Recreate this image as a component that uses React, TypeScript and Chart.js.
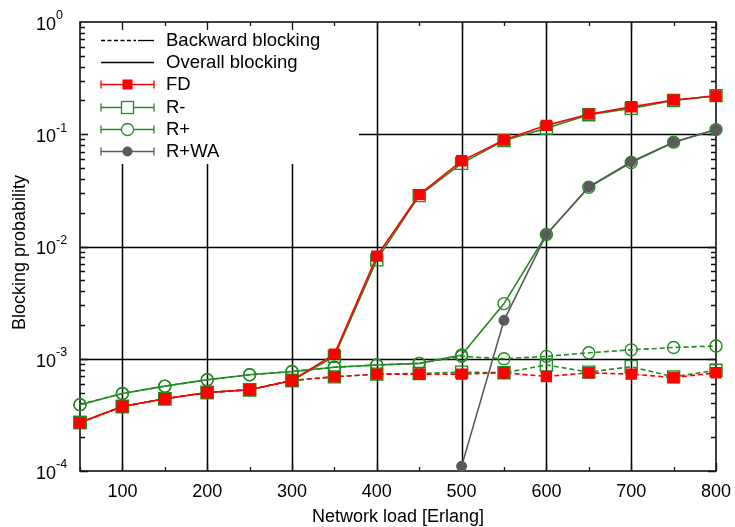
import React, { useEffect, useRef } from "react";
import { Chart, registerables } from "chart.js";

Chart.register(...registerables);

const loads = [50, 100, 150, 200, 250, 300, 350, 400, 450, 500, 550, 600, 650, 700, 750, 800];

const fdOverall = [2.7e-4, 3.75e-4, 4.4e-4, 5.0e-4, 5.3e-4, 6.4e-4, 1.1e-3, 8.2e-3, 2.9e-2, 5.8e-2, 8.9e-2, 0.12, 0.151, 0.176, 0.202, 0.219];
const fdBackward = [2.7e-4, 3.75e-4, 4.4e-4, 5.0e-4, 5.3e-4, 6.4e-4, 6.9e-4, 7.3e-4, 7.3e-4, 7.3e-4, 7.5e-4, 6.95e-4, 7.5e-4, 7.3e-4, 6.8e-4, 7.5e-4];
const rMinusOverall = [2.7e-4, 3.75e-4, 4.4e-4, 5.0e-4, 5.3e-4, 6.4e-4, 1.05e-3, 7.6e-3, 2.84e-2, 5.5e-2, 8.8e-2, 0.113, 0.149, 0.17, 0.2, 0.221];
const rMinusBackward = [2.7e-4, 3.75e-4, 4.4e-4, 5.0e-4, 5.3e-4, 6.4e-4, 6.9e-4, 7.3e-4, 7.4e-4, 7.6e-4, 7.5e-4, 8.8e-4, 7.6e-4, 8.5e-4, 6.9e-4, 7.9e-4];
const rPlusOverall = [3.9e-4, 4.9e-4, 5.7e-4, 6.5e-4, 7.2e-4, 7.7e-4, 8.4e-4, 8.8e-4, 9.1e-4, 1.08e-3, 3.1e-3, 1.28e-2, 3.37e-2, 5.6e-2, 8.5e-2, 0.11];
const rPlusBackward = [3.9e-4, 4.9e-4, 5.7e-4, 6.5e-4, 7.2e-4, 7.7e-4, 8.4e-4, 8.8e-4, 9.1e-4, 1.05e-3, 1.0e-3, 1.05e-3, 1.13e-3, 1.2e-3, 1.26e-3, 1.3e-3];
const rPlusWaOverall = [null, null, null, null, null, null, null, null, null, 1.1e-4, 2.2e-3, 1.28e-2, 3.4e-2, 5.7e-2, 8.5e-2, 0.11];

const xGridValues = [100, 200, 300, 400, 500, 600, 700];
const xTickValues = [50, 100, 150, 200, 250, 300, 350, 400, 450, 500, 550, 600, 650, 700, 750, 800];
const xTickLabels = ["100", "200", "300", "400", "500", "600", "700", "800"];
const xLabelValues = [100, 200, 300, 400, 500, 600, 700, 800];
const yDecadeExps = [0, -1, -2, -3, -4];
const yGridExps = [-1, -2, -3];

const legendLines = ["Backward blocking", "Overall blocking"];
const legendSeries = ["FD", "R-", "R+", "R+WA"];

const RED = "#ff0000";
const GREEN = "rgb(34,139,34)";
const GREY = "rgb(90,90,90)";
const FONT = '"Liberation Sans", Arial, Helvetica, sans-serif';

const gnuplotPlugin = {
  id: "gnuplotFrame",
  beforeDatasetsDraw(chart: any) {
    const { ctx, chartArea, scales } = chart;
    const { left, right, top, bottom } = chartArea;
    const xs = scales.x;
    const ys = scales.y;
    ctx.save();
    // grid
    ctx.strokeStyle = "#000";
    ctx.lineWidth = 1.5;
    for (const v of xGridValues) {
      const px = Math.round(xs.getPixelForValue(v)) + 0.5;
      ctx.beginPath();
      ctx.moveTo(px, top);
      ctx.lineTo(px, bottom);
      ctx.stroke();
    }
    for (const e of yGridExps) {
      const py = Math.round(ys.getPixelForValue(Math.pow(10, e))) + 0.5;
      ctx.beginPath();
      ctx.moveTo(left, py);
      ctx.lineTo(right, py);
      ctx.stroke();
    }
    // legend background
    ctx.fillStyle = "#fff";
    ctx.fillRect(left + 1, top + 1, 278, 141);
    // border
    ctx.strokeStyle = "#111";
    ctx.lineWidth = 1.6;
    ctx.strokeRect(left, top, right - left, bottom - top);
    // x ticks
    ctx.lineWidth = 1.3;
    for (const v of xTickValues) {
      const px = Math.round(xs.getPixelForValue(v)) + 0.5;
      const len = v % 100 === 0 ? 8 : 4;
      ctx.beginPath();
      ctx.moveTo(px, bottom);
      ctx.lineTo(px, bottom - len);
      ctx.moveTo(px, top);
      ctx.lineTo(px, top + len);
      ctx.stroke();
    }
    // y ticks
    for (let e = -4; e < 0; e++) {
      for (let m = 1; m <= 9; m++) {
        const v = m * Math.pow(10, e);
        const py = Math.round(ys.getPixelForValue(v)) + 0.5;
        const len = m === 1 ? 8 : 5;
        ctx.beginPath();
        ctx.moveTo(left, py);
        ctx.lineTo(left + len, py);
        ctx.moveTo(right, py);
        ctx.lineTo(right - len, py);
        ctx.stroke();
      }
    }
    // x tick labels
    ctx.fillStyle = "#000";
    ctx.font = `18px ${FONT}`;
    ctx.textAlign = "center";
    ctx.textBaseline = "middle";
    xLabelValues.forEach((v, i) => {
      ctx.fillText(xTickLabels[i], xs.getPixelForValue(v), bottom + 21);
    });
    // y tick labels
    for (const e of yDecadeExps) {
      const py = ys.getPixelForValue(Math.pow(10, e));
      ctx.font = `18px ${FONT}`;
      ctx.textAlign = "right";
      ctx.textBaseline = "middle";
      ctx.fillText("10", left - 24, py + 3);
      ctx.font = `12.5px ${FONT}`;
      ctx.textAlign = "left";
      ctx.fillText(String(e), left - 24, py - 6);
    }
    // axis titles
    ctx.font = `18px ${FONT}`;
    ctx.textAlign = "center";
    ctx.textBaseline = "middle";
    ctx.fillText("Network load [Erlang]", (left + right) / 2, bottom + 46);
    ctx.save();
    ctx.translate(20, (top + bottom) / 2 + 6);
    ctx.rotate(-Math.PI / 2);
    ctx.fillText("Blocking probability", 0, 0);
    ctx.restore();
    ctx.restore();
  },
  afterDraw(chart: any) {
    const { ctx, chartArea } = chart;
    const { left, top } = chartArea;
    const x0 = left + 21;
    const x1 = left + 74;
    const xm = (x0 + x1) / 2;
    const xt = left + 86;
    const rowY = (i: number) => top + 18 + i * 22.2;
    ctx.save();
    ctx.font = `18.5px ${FONT}`;
    ctx.textAlign = "left";
    ctx.textBaseline = "middle";
    ctx.fillStyle = "#000";
    // line style rows
    ctx.strokeStyle = "#000";
    ctx.lineWidth = 1.3;
    let y = Math.round(rowY(0)) + 0.5;
    ctx.setLineDash([4, 2.5]);
    ctx.beginPath();
    ctx.moveTo(x0, y);
    ctx.lineTo(x0 + 35, y);
    ctx.stroke();
    ctx.setLineDash([]);
    ctx.beginPath();
    ctx.moveTo(x0 + 37, y);
    ctx.lineTo(x1, y);
    ctx.stroke();
    ctx.fillText(legendLines[0], xt, rowY(0) + 1);
    y = Math.round(rowY(1)) + 0.5;
    ctx.beginPath();
    ctx.moveTo(x0, y);
    ctx.lineTo(x1, y);
    ctx.stroke();
    ctx.fillText(legendLines[1], xt, rowY(1) + 1);
    const colors = [RED, GREEN, GREEN, GREY];
    legendSeries.forEach((name, i) => {
      const yy = Math.round(rowY(i + 2)) + 0.5;
      const c = colors[i];
      ctx.strokeStyle = c;
      ctx.lineWidth = 1.3;
      ctx.beginPath();
      ctx.moveTo(x0, yy);
      ctx.lineTo(x1, yy);
      ctx.moveTo(x0, yy - 4);
      ctx.lineTo(x0, yy + 4);
      ctx.moveTo(x1, yy - 4);
      ctx.lineTo(x1, yy + 4);
      ctx.stroke();
      if (i === 0) {
        ctx.fillStyle = c;
        ctx.fillRect(xm - 5, yy - 5, 10, 10);
      } else if (i === 1) {
        ctx.fillStyle = "#fff";
        ctx.fillRect(xm - 6, yy - 6, 12, 12);
        ctx.strokeRect(xm - 6, yy - 6, 12, 12);
      } else if (i === 2) {
        ctx.fillStyle = "#fff";
        ctx.beginPath();
        ctx.arc(xm, yy, 6, 0, Math.PI * 2);
        ctx.fill();
        ctx.stroke();
      } else {
        ctx.fillStyle = c;
        ctx.beginPath();
        ctx.arc(xm, yy, 5, 0, Math.PI * 2);
        ctx.fill();
      }
      ctx.fillStyle = "#000";
      ctx.fillText(name, xt, rowY(i + 2) + 1);
    });
    ctx.restore();
  },
};

export default function App() {
  const canvasRef = useRef<HTMLCanvasElement | null>(null);
  useEffect(() => {
    document.body.style.margin = "0";
    const canvas = canvasRef.current;
    if (!canvas) return;
    const mk = (data: (number | null)[], color: string, dashed: boolean, style: string, radius: number, filled: boolean) => ({
      data: loads.map((x, i) => ({ x, y: data[i] })),
      borderColor: color,
      borderWidth: 1.6,
      borderDash: dashed ? [5, 3] : [],
      pointStyle: style,
      pointRadius: radius,
      pointBorderColor: color,
      pointBackgroundColor: filled ? color : "rgba(0,0,0,0)",
      pointBorderWidth: 1.4,
      tension: 0,
      clip: false as any,
      fill: false,
    });
    const chart = new Chart(canvas, {
      type: "line",
      data: {
        datasets: [
          mk(fdOverall, RED, false, "rect", 7.07, true),
          mk(fdBackward, RED, true, "rect", 7.07, true),
          mk(rPlusWaOverall, GREY, false, "circle", 4.8, true),
          mk(rMinusOverall, GREEN, false, "rect", 8.5, false),
          mk(rMinusBackward, GREEN, true, "rect", 8.5, false),
          mk(rPlusOverall, GREEN, false, "circle", 6, false),
          mk(rPlusBackward, GREEN, true, "circle", 6, false),
        ] as any,
      },
      options: {
        responsive: false,
        animation: false,
        layout: { padding: { left: 80, right: 19, top: 22, bottom: 56 } },
        plugins: { legend: { display: false }, tooltip: { enabled: false } },
        scales: {
          x: { type: "linear", min: 50, max: 800, display: false },
          y: { type: "logarithmic", min: 1e-4, max: 1, display: false },
        },
      },
      plugins: [gnuplotPlugin],
    });
    return () => chart.destroy();
  }, []);
  return (
    <div style={{ width: 735, height: 527 }}>
      <canvas ref={canvasRef} width={735} height={527} style={{ display: "block" }} />
    </div>
  );
}
